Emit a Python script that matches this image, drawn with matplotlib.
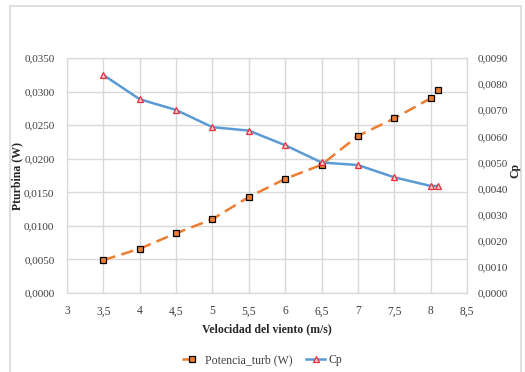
import numpy as np
import matplotlib.pyplot as plt
from matplotlib.patches import Rectangle

plt.rcParams['font.family'] = ['Liberation Serif', 'DejaVu Serif']

velocidad = [3.5, 4, 4.5, 5, 5.5, 6, 6.5, 7, 7.5, 8, 8.1]
potencia = [0.0049, 0.0066, 0.0089, 0.0110, 0.0143, 0.0170, 0.0191, 0.0234, 0.0260, 0.0290, 0.0303]
cp = [0.00835, 0.00742, 0.00701, 0.00635, 0.00622, 0.00566, 0.00500, 0.00490, 0.00443, 0.00410, 0.00410]

orange = '#ED7D31'
blue = '#5B9BD5'
gridc = '#d9d9d9'

fig = plt.figure(figsize=(5.25, 3.72), dpi=100)
# chart border
fig.patches.append(Rectangle((10/525, -0.05), 511/525, 1 - 6/372 + 0.05, transform=fig.transFigure,
                             fill=False, edgecolor=gridc, linewidth=1.2))

ax = fig.add_axes([67/525, 1 - 293/372, 400/525, 235/372])
ax2 = ax.twinx()

l1, = ax.plot(velocidad, potencia, color=orange, linestyle=(0, (5, 2.5)), linewidth=1.8,
              marker='s', markersize=4.5, markerfacecolor=orange, markeredgecolor='black',
              markeredgewidth=0.9, label='Potencia_turb (W)')
l2, = ax2.plot(velocidad, cp, color=blue, linewidth=1.8,
               marker='^', markersize=5, markerfacecolor='#f7c6cc', markeredgecolor='#e8303a',
               markeredgewidth=0.9, label='Cp')

ax.set_xlim(3, 8.5)
ax.set_ylim(0, 0.035)
ax2.set_ylim(0, 0.009)
ax.set_xticks(np.arange(3, 8.51, 0.5))
ax.set_yticks(np.arange(0, 0.03501, 0.005))
ax2.set_yticks(np.arange(0, 0.00901, 0.001))

fmt = lambda v, d: f'{v:.{d}f}'.replace('.', ',')
ax.set_xticklabels([f'{v:g}'.replace('.', ',') for v in np.arange(3, 8.51, 0.5)])
ax.set_yticklabels([fmt(v, 4) for v in np.arange(0, 0.03501, 0.005)])
ax2.set_yticklabels([fmt(v, 4) for v in np.arange(0, 0.00901, 0.001)])

ax.grid(True, color=gridc, linewidth=1)
ax.set_axisbelow(True)
for a in (ax, ax2):
    for s in a.spines.values():
        s.set_color(gridc)
    a.tick_params(length=0, labelsize=8.0, colors='#404040')
ax.tick_params(axis='x', labelsize=8.3, pad=9)
ax.tick_params(axis='y', pad=9)
ax2.tick_params(axis='y', pad=8)

ax.set_xlabel('Velocidad del viento (m/s)', fontsize=8.5, fontweight='bold', color='#262626')
ax.xaxis.set_label_coords(0.5, -(323 - 293) / 235)
ax.set_ylabel('Pturbina (W)', fontsize=8.5, fontweight='bold', color='#262626')
ax.yaxis.set_label_coords((23 - 67) / 400, 0.5)
ax2.set_ylabel('Cp', fontsize=8.5, fontweight='bold', rotation=90, color='#262626',
               ha='center', va='bottom', rotation_mode='anchor')
ax2.yaxis.set_label_coords((521 - 67) / 400, 0.52)

fig.legend([l1, l2], ['Potencia_turb (W)', 'Cp'], loc='center', bbox_to_anchor=(0.5, 1 - 360/372),
           ncol=2, frameon=False, fontsize=8.5, handlelength=1.6, columnspacing=1.2,
           handletextpad=0.3, labelcolor='#404040')

fig.savefig('out.png', dpi=100)
